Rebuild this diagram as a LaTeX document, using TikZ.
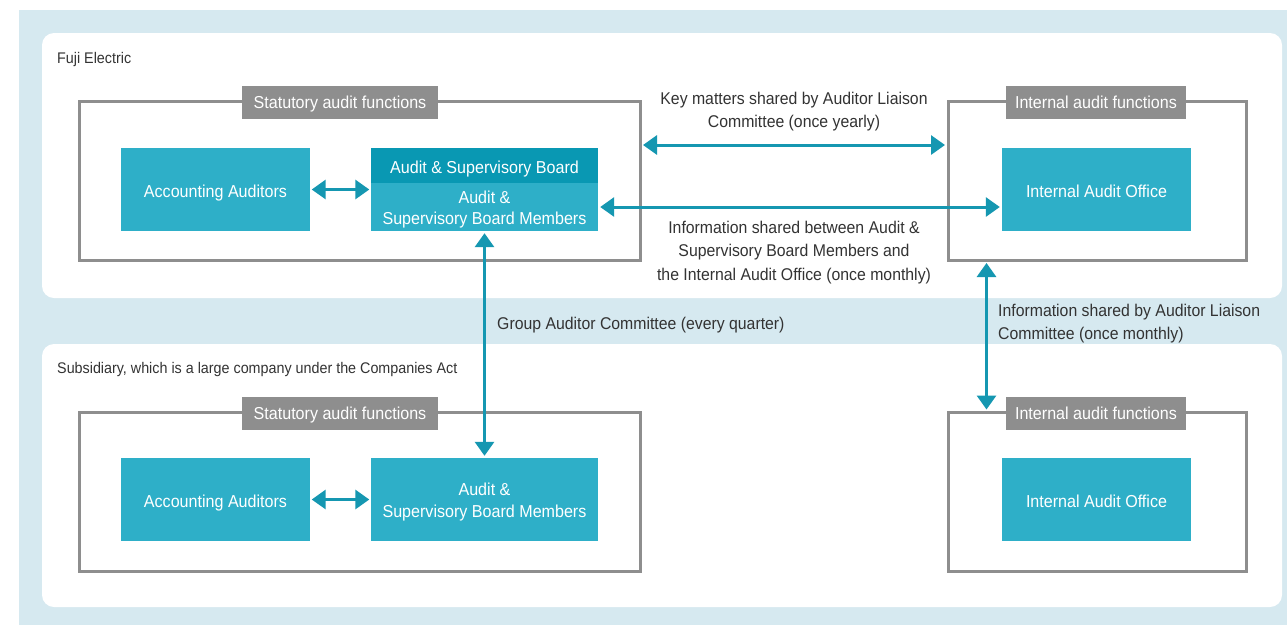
\documentclass[tikz,border=0pt]{standalone}
\usepackage{fontspec}
\setmainfont{Liberation Sans}[FakeStretch=0.93]
\usetikzlibrary{arrows.meta,positioning,calc}
\definecolor{bgblue}{HTML}{D6E9F0}
\definecolor{frame}{HTML}{8E8E8E}
\definecolor{tealA}{HTML}{2EAFC8}
\definecolor{tealB}{HTML}{0998B3}
\definecolor{arrc}{HTML}{1597B1}
\definecolor{txt}{HTML}{333333}
\tikzset{
  panel/.style={fill=white, rounded corners=12pt, draw=none},
  grpframe/.style={draw=frame, line width=3pt, fill=none, inner sep=0pt},
  tagbox/.style={fill=frame, inner sep=0pt, minimum height=33pt,
    label={[text=white, inner sep=0pt, text height=12.6pt, text depth=3.6pt, yshift=-1.5pt, font=\fontsize{17.3}{19}\selectfont]center:#1}},
  unit/.style={fill=tealA, inner sep=0pt, minimum width=189pt, minimum height=83pt},
  utext/.style={label={[text=white, inner sep=0pt, yshift=-2.5pt, align=center, font=\fontsize{17.3}{21.5}\selectfont]center:#1}},
  utextone/.style={label={[text=white, inner sep=0pt, text height=12.6pt, text depth=3.6pt, yshift=-3pt, font=\fontsize{17.3}{21.5}\selectfont]center:#1}},
  arr/.style={draw=arrc, line width=3pt, {Triangle[length=14pt,width=19pt]}-{Triangle[length=14pt,width=19pt]}},
  lbl/.style={text=txt, font=\fontsize{17}{23.5}\selectfont, inner sep=0pt},
  plbl/.style={text=txt, font=\fontsize{15.4}{18}\selectfont, inner sep=0pt, anchor=west},
}
\begin{document}
\begin{tikzpicture}[x=1pt,y=-1pt]
\useasboundingbox (0,0) rectangle (1287,625);
\fill[bgblue] (19,10) rectangle (1287,625);
\fill[panel] (42,33) rectangle (1282,298);
\fill[panel] (42,344) rectangle (1282,607);

\node[plbl] (fuji) at (57,60) {Fuji Electric};
\node[plbl] (subs) at (57,370) {Subsidiary, which is a large company under the Companies Act};

% frames
\node[grpframe, minimum width=561pt, minimum height=159pt] (sl1) at (359.5,180.5) {};
\node[grpframe, minimum width=298pt, minimum height=159pt] (ir1) at (1097,180.5) {};
\node[grpframe, minimum width=561pt, minimum height=159pt] (sl2) at (359.5,492) {};
\node[grpframe, minimum width=298pt, minimum height=159pt] (ir2) at (1097,492) {};

\node[tagbox={Statutory audit functions}, minimum width=196pt] (t1) at (340,102.5) {};
\node[tagbox={Internal audit functions}, minimum width=180pt] (t2) at (1096,102.5) {};
\node[tagbox={Statutory audit functions}, minimum width=196pt] (t3) at (340,413) {};
\node[tagbox={Internal audit functions}, minimum width=180pt] (t4) at (1096,413) {};

% units top
\node[unit, utextone={Accounting Auditors}] (acc1) at (215.5,189.5) {};
\node[unit, fill=tealB, minimum width=227pt, minimum height=35pt, utextone={Audit \& Supervisory Board}] (asbh) at (484.5,165.5) {};
\node[unit, minimum width=227pt, minimum height=48pt, utext={Audit \&\\Supervisory Board Members}] (asbm) at (484.5,207) {};
\node[unit, utextone={Internal Audit Office}] (iao1) at (1096.5,189.5) {};

% units bottom
\node[unit, utextone={Accounting Auditors}] (acc2) at (215.5,499.5) {};
\node[unit, minimum width=227pt, utext={Audit \&\\Supervisory Board Members}] (asb2) at (484.5,499.5) {};
\node[unit, utextone={Internal Audit Office}] (iao2) at (1096.5,499.5) {};

% arrows
\draw[arr, shorten <=1.5pt, shorten >=1.5pt] (acc1.east) -- (asbm.west |- acc1.east);
\draw[arr, shorten <=1.5pt, shorten >=1.5pt] (acc2.east) -- (asb2.west);
\draw[arr, shorten <=1.5pt, shorten >=1.5pt] ([yshift=35.5pt]sl1.east) -- ([yshift=35.5pt]ir1.west);
\draw[arr, shorten <=2pt, shorten >=2pt] (asbm.east) -- (iao1.west |- asbm.east);
\draw[arr, shorten <=2pt, shorten >=2pt] (asbm.south) -- (asb2.north);
\draw[arr, shorten <=1.5pt, shorten >=1.5pt] ([xshift=40pt]ir1.south west) -- ([xshift=40pt]ir2.north west);

% connector labels
\node[lbl, align=center] (k) at (794,111.5) {Key matters shared by Auditor Liaison\\Committee (once yearly)};
\node[lbl, align=center] (inf) at (794,252.5) {Information shared between Audit \&\\Supervisory Board Members and\\the Internal Audit Office (once monthly)};
\node[lbl, anchor=west] (grp) at (497,325) {Group Auditor Committee (every quarter)};
\node[lbl, align=left, anchor=west] (liai) at (998,323.5) {Information shared by Auditor Liaison\\Committee (once monthly)};
\end{tikzpicture}
\end{document}
